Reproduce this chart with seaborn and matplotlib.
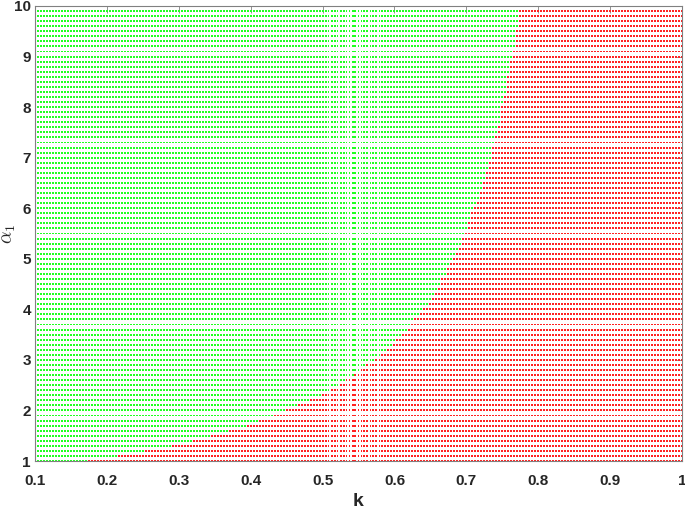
import numpy as np
import pandas as pd
import seaborn as sns
import matplotlib.pyplot as plt

# parameter sweep: k on the x axis, alpha_1 on the y axis (grid as in the original run)
k_values = np.round(np.linspace(0.1, 1.0, 217), 4)
alpha_values = np.round(np.linspace(1.0, 10.0, 91), 2)

# first k that is red (unstable) in each alpha row
k_boundary = [
    0.174, 0.214, 0.254, 0.289, 0.319, 0.343, 0.367, 0.392, 0.412, 0.431,
    0.450, 0.466, 0.483, 0.496, 0.509, 0.521, 0.532, 0.542, 0.552, 0.562,
    0.572, 0.581, 0.589, 0.597, 0.604, 0.611, 0.618, 0.624, 0.629, 0.635,
    0.640, 0.646, 0.651, 0.655, 0.659, 0.663, 0.666, 0.671, 0.675, 0.679,
    0.682, 0.686, 0.689, 0.692, 0.695, 0.699, 0.701, 0.703, 0.706, 0.708,
    0.712, 0.715, 0.718, 0.720, 0.722, 0.724, 0.726, 0.728, 0.730, 0.732,
    0.734, 0.735, 0.737, 0.739, 0.741, 0.743, 0.744, 0.746, 0.747, 0.749,
    0.750, 0.752, 0.753, 0.755, 0.756, 0.757, 0.758, 0.760, 0.761, 0.762,
    0.764, 0.765, 0.767, 0.768, 0.769, 0.770, 0.771, 0.772, 0.774, 0.775,
    0.777,
]

xtick_labels = ["0.1", "0.2", "0.3", "0.4", "0.5", "0.6", "0.7", "0.8", "0.9", "1"]
ytick_labels = ["1", "2", "3", "4", "5", "6", "7", "8", "9", "10"]

rows = []
for a, kb in zip(alpha_values, k_boundary):
    for k in k_values:
        rows.append((k, a, "stable" if k < kb else "unstable"))
df = pd.DataFrame(rows, columns=["k", "alpha", "region"])

sns.set_style("white")
plt.rcParams['font.family'] = ['Liberation Sans', 'DejaVu Sans']
plt.rcParams['mathtext.fontset'] = 'cm'

fig = plt.figure(figsize=(6.85, 5.12), dpi=100)
ax = fig.add_axes([0.0511, 0.0996, 0.9445, 0.8887])

sns.scatterplot(data=df, x="k", y="alpha", hue="region",
                palette={"stable": "#22ff22", "unstable": "#ff2222"},
                marker="s", s=2.0, linewidth=0, edgecolor="none",
                legend=False, ax=ax)

ax.set_xlim(0.1, 1.0)
ax.set_ylim(1, 10)
ax.set_xticks([float(t) for t in xtick_labels])
ax.set_xticklabels(xtick_labels, fontweight="bold", fontsize=11)
ax.set_yticks([float(t) for t in ytick_labels])
ax.set_yticklabels(ytick_labels, fontweight="bold", fontsize=11)
ax.tick_params(direction="in", length=5, width=0.6, color="#808080",
               top=True, right=True)
ax.tick_params(axis="x", pad=9)
ax.tick_params(axis="y", pad=3)
for sp in ax.spines.values():
    sp.set_color("#808080")
    sp.set_linewidth(0.8)

ax.set_xlabel("k", fontweight="bold", fontsize=14, labelpad=4)
ax.set_ylabel(r"$\alpha_1$", fontsize=14)
ax.yaxis.set_label_coords(-0.027, 0.5)

fig.savefig("out.png", dpi=100)
